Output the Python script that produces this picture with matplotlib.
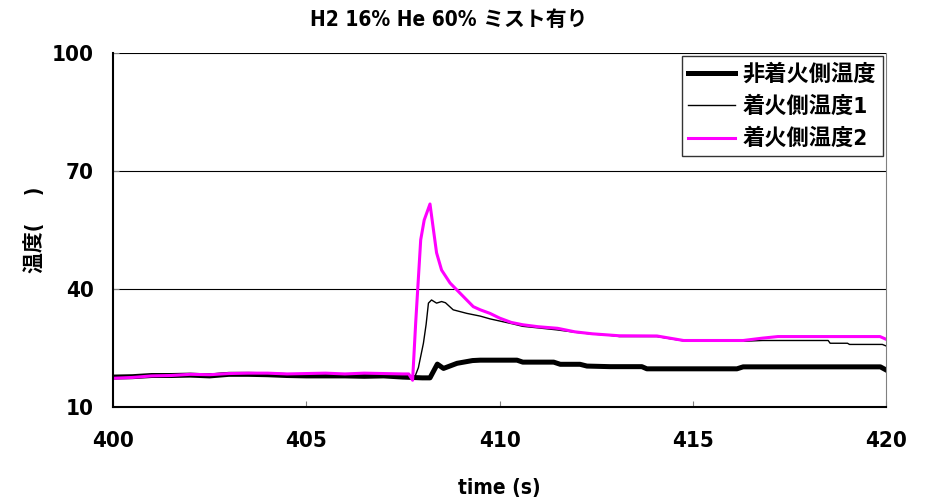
import matplotlib
matplotlib.use("Agg")
import matplotlib.pyplot as plt

# 非着火側温度 (thick black)
t0 = [400.0, 400.5, 401.0, 401.5, 402.0, 402.5, 403.0, 403.5, 404.0, 404.5, 405.0, 405.5,
      406.0, 406.5, 407.0, 407.5, 408.0, 408.2, 408.39, 408.55, 408.9, 409.3, 409.5, 410.45,
      410.6, 411.4, 411.57, 412.08, 412.26, 412.86, 413.68, 413.81, 416.14, 416.3, 419.85, 420.0]
v0 = [17.6, 17.7, 18.0, 18.0, 18.1, 17.9, 18.3, 18.3, 18.2, 18.0, 17.9, 17.9,
      17.9, 17.8, 17.9, 17.6, 17.4, 17.4, 20.9, 19.8, 21.1, 21.8, 21.9, 21.9,
      21.4, 21.4, 20.85, 20.85, 20.4, 20.25, 20.25, 19.7, 19.7, 20.2, 20.2, 19.4]

# 着火側温度1 (thin black)
t1 = [400.0, 401.0, 402.0, 403.0, 404.0, 405.0, 406.0, 407.0, 407.6, 407.81, 407.9, 408.03,
      408.1, 408.16, 408.24, 408.37, 408.5, 408.6, 408.8, 409.15, 409.5, 409.75, 410.35, 410.6,
      411.0, 411.48, 411.95, 412.34, 412.86, 413.1, 414.07, 414.76, 416.3, 416.8, 418.5, 418.55,
      419.0, 419.05, 419.9, 420.0]
v1 = [17.5, 18.0, 18.2, 18.6, 18.4, 18.2, 18.1, 18.1, 17.8, 17.7, 20.0, 26.2,
      31.0, 36.4, 37.2, 36.4, 36.8, 36.5, 34.7, 33.8, 33.1, 32.4, 31.1, 30.5,
      30.1, 29.6, 29.0, 28.6, 28.2, 27.9, 27.9, 26.8, 26.7, 26.9, 26.9, 26.2,
      26.2, 25.9, 25.9, 25.5]

# 着火側温度2 (magenta)
t2 = [400.0, 400.5, 401.0, 401.5, 402.0, 402.5, 403.0, 403.5, 404.0, 404.5, 405.0, 405.5,
      406.0, 406.5, 407.0, 407.5, 407.65, 407.75, 407.83, 407.96, 408.05, 408.2, 408.29, 408.37,
      408.5, 408.72, 408.9, 409.15, 409.32, 409.5, 409.75, 410.0, 410.3, 410.6, 411.0, 411.5,
      411.95, 412.4, 413.1, 414.07, 414.76, 416.3, 416.8, 417.2, 419.84, 420.0]
v2 = [17.3, 17.5, 17.9, 18.0, 18.3, 18.2, 18.5, 18.6, 18.6, 18.4, 18.5, 18.6,
      18.4, 18.6, 18.5, 18.4, 18.4, 16.8, 31.4, 52.5, 57.5, 61.6, 55.0, 49.2,
      44.8, 41.5, 39.7, 37.2, 35.5, 34.7, 33.8, 32.6, 31.5, 30.9, 30.4, 30.0,
      29.1, 28.6, 28.1, 28.05, 26.9, 26.9, 27.5, 27.9, 27.9, 27.2]

labels = ["非着火側温度", "着火側温度1", "着火側温度2"]
xticks = [400, 405, 410, 415, 420]
yticks = [10, 40, 70, 100]

plt.rcParams["font.family"] = ["DejaVu Sans", "Noto Sans CJK JP"]
plt.rcParams["font.stretch"] = "condensed"
plt.rcParams["font.weight"] = "bold"

fig = plt.figure(figsize=(9.26, 5.04), dpi=100)
ax = fig.add_axes([0.122, 0.1925, 0.835, 0.7025])

ax.plot(t0, v0, color="black", lw=3.6, label=labels[0], solid_joinstyle="round")
ax.plot(t1, v1, color="black", lw=1.0, label=labels[1])
ax.plot(t2, v2, color="#ff00ff", lw=2.2, label=labels[2])

ax.set_xlim(400, 420)
ax.set_ylim(10, 100)
ax.set_xticks(xticks)
ax.set_yticks(yticks)
ax.tick_params(direction="in", length=4, labelsize=16, color="#808080")
ax.tick_params(axis="y", pad=14)
ax.tick_params(axis="x", pad=17)
ax.grid(axis="y", color="black", lw=0.8)
for s in ["left", "bottom"]:
    ax.spines[s].set_linewidth(1.5)
ax.spines["top"].set_visible(False)
ax.spines["right"].set_color("#808080")

fig.text(0.485, 0.96, "H2 16% He 60% ミスト有り", fontsize=15, fontweight="bold",
         ha="center", va="center")
ax.set_xlabel("time (s)", fontsize=15, fontweight="bold", labelpad=20)
ax.set_ylabel("温度(　 )", fontsize=15, fontweight="bold")
ax.yaxis.set_label_coords(-0.088, 0.5)

leg = ax.legend(loc="upper right", fontsize=16, frameon=True, fancybox=False,
                borderaxespad=0.15, handlelength=2.1, handletextpad=0.35, labelspacing=0.5,
                borderpad=0.3)
leg.get_frame().set_edgecolor("black")
leg.get_frame().set_linewidth(1.0)

fig.savefig("out.png", dpi=100)
